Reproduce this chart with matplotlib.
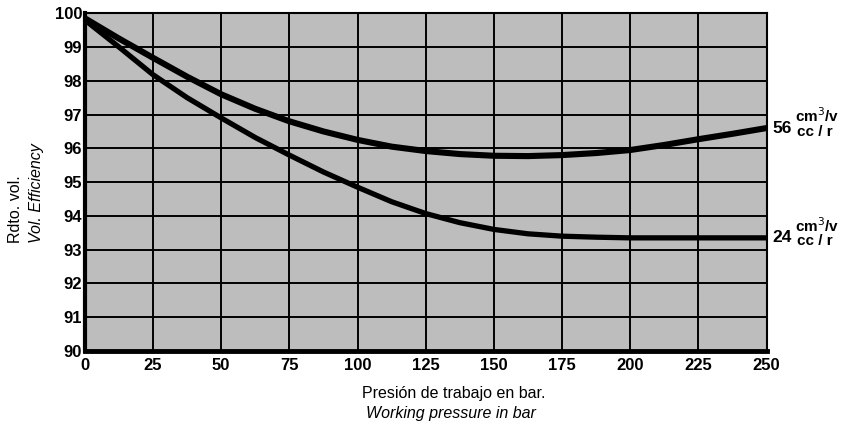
import matplotlib
matplotlib.use('Agg')
import matplotlib.pyplot as plt

plt.rcParams['font.family'] = ['Liberation Sans', 'DejaVu Sans']

# presion de trabajo (bar)
pressure = [0, 12.5, 25, 37.5, 50, 62.5, 75, 87.5, 100, 112.5, 125, 137.5,
            150, 162.5, 175, 187.5, 200, 212.5, 225, 237.5, 250]
# rendimiento volumetrico, 56 cm3/v
eff_56 = [99.85, 99.25, 98.68, 98.12, 97.6, 97.17, 96.8, 96.5, 96.25, 96.05,
          95.92, 95.83, 95.78, 95.77, 95.8, 95.86, 95.95, 96.1, 96.27, 96.43, 96.6]
# rendimiento volumetrico, 24 cm3/v
eff_24 = [99.8, 99.0, 98.18, 97.5, 96.9, 96.32, 95.8, 95.3, 94.85, 94.42,
          94.07, 93.8, 93.6, 93.47, 93.4, 93.37, 93.35, 93.35, 93.35, 93.35, 93.35]
curve_names = ['56', '24']

x_ticks = list(range(0, 251, 25))
y_ticks = list(range(90, 101))

fig = plt.figure(figsize=(8.48, 4.25), dpi=100)
ax = fig.add_axes([0.100, 0.174, 0.804, 0.795])
ax.set_facecolor('#bdbdbd')

ax.plot(pressure, eff_56, color='black', linewidth=4.4, solid_capstyle='butt', zorder=3)
ax.plot(pressure, eff_24, color='black', linewidth=3.8, solid_capstyle='butt', zorder=3)

ax.set_xlim(0, 250)
ax.set_ylim(90, 100)
ax.set_xticks(x_ticks)
ax.set_yticks(y_ticks)
ax.grid(True, color='black', linewidth=1.4)
ax.set_axisbelow(True)
ax.tick_params(length=0, labelsize=12)
ax.tick_params(axis='x', pad=5)
ax.tick_params(axis='y', pad=2)
for lab in ax.get_xticklabels() + ax.get_yticklabels():
    lab.set_fontweight('bold')

ax.spines['left'].set_linewidth(3)
ax.spines['bottom'].set_linewidth(3.5)
ax.spines['top'].set_linewidth(1.5)
ax.spines['right'].set_linewidth(1.5)

# etiquetas de las curvas a la derecha
for name, serie in zip(curve_names, [eff_56, eff_24]):
    yv = serie[-1]
    ax.text(252, yv, name, fontsize=12.5, fontweight='bold', va='center', ha='left',
            clip_on=False)
    ax.text(260.5, yv + 0.08, 'cm$^3$/v', fontsize=11, fontweight='bold',
            va='bottom', ha='left', clip_on=False)
    ax.text(261, yv + 0.1, 'cc / r', fontsize=11, fontweight='bold',
            va='top', ha='left', clip_on=False)

# titulos de ejes
fig.text(0.018, 0.428, 'Rdto. vol.', rotation=90, fontsize=11.5, ha='center', va='bottom')
fig.text(0.043, 0.428, 'Vol. Efficiency', rotation=90, fontsize=11.5, style='italic',
         ha='center', va='bottom')
fig.text(0.535, 0.075, 'Presión de trabajo en bar.', fontsize=11.5, ha='center', va='center')
fig.text(0.532, 0.028, 'Working pressure in bar', fontsize=11.5, style='italic',
         ha='center', va='center')

fig.savefig('out.png', dpi=100)
